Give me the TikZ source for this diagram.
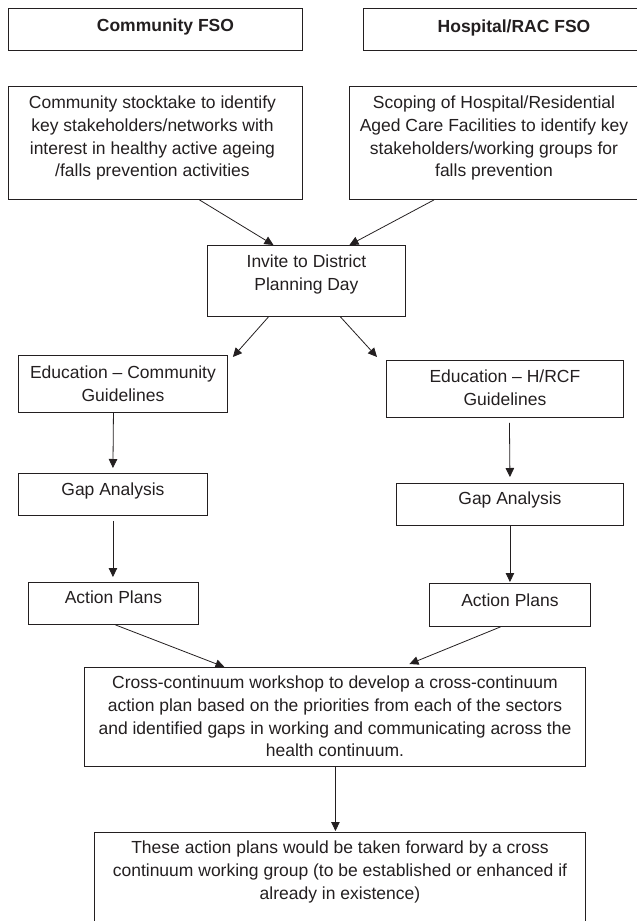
\documentclass[tikz,border=0pt]{standalone}
\usepackage{fontspec}
\setmainfont{Liberation Sans}
\usetikzlibrary{arrows.meta}
\definecolor{ink}{HTML}{231F20}
\begin{document}
\begin{tikzpicture}[x=1pt,y=-1pt,
  box/.style={draw=ink,line width=0.9pt,inner sep=0pt,anchor=north west},
  txt/.style={text=ink,inner sep=0pt,align=center,font=\fontsize{17.5}{22.6}\selectfont},
  hdr/.style={text=ink,inner sep=0pt,font=\fontsize{17.5}{22.6}\selectfont\bfseries},
  arr/.style={draw=ink,line width=0.8pt,-{Triangle[length=9pt,width=8.5pt]}}]
\useasboundingbox (0,0) rectangle (637,921);
% boxes
\node[box,minimum width=294pt,minimum height=42pt] (hL) at (8,8) {};
\node[box,minimum width=290pt,minimum height=42pt] (hR) at (363,8) {};
\node[box,minimum width=294pt,minimum height=113pt] (stock) at (8,86) {};
\node[box,minimum width=300pt,minimum height=113pt] (scope) at (349,86) {};
\node[box,minimum width=198pt,minimum height=71pt] (invite) at (207,245) {};
\node[box,minimum width=209pt,minimum height=57pt] (eduL) at (18,355) {};
\node[box,minimum width=237pt,minimum height=57pt] (eduR) at (386,360) {};
\node[box,minimum width=189pt,minimum height=42pt] (gapL) at (18,473) {};
\node[box,minimum width=227pt,minimum height=42pt] (gapR) at (396,483) {};
\node[box,minimum width=170pt,minimum height=42pt] (actL) at (28,582) {};
\node[box,minimum width=161pt,minimum height=43pt] (actR) at (429,583) {};
\node[box,minimum width=501pt,minimum height=99pt] (cross) at (84,667) {};
\node[box,minimum width=491pt,minimum height=110pt] (these) at (94,832) {};
% texts
\node[hdr] (hLt) at ([xshift=10pt,yshift=2pt]hL.center) {Community FSO};
\node[hdr] (hRt) at ([xshift=151pt,yshift=23pt]hR.south west) {Hospital/RAC FSO};
\node[txt,anchor=north] (stockt) at ([xshift=-3pt,yshift=-10pt]stock.north) {Community stocktake to identify\\key stakeholders/networks with\\interest in healthy active ageing\\/falls prevention activities};
\node[txt,anchor=north] (scopet) at ([xshift=145pt,yshift=-10pt]scope.north west) {Scoping of Hospital/Residential\\Aged Care Facilities to identify key\\stakeholders/working groups for\\falls prevention};
\node[txt,anchor=north] (invitet) at ([yshift=-10pt]invite.north) {Invite to District\\Planning Day};
\node[txt,anchor=north] (eduLt) at ([yshift=-11pt]eduL.north) {Education -- Community\\Guidelines};
\node[txt,anchor=north] (eduRt) at ([yshift=-10pt]eduR.north) {Education -- H/RCF\\Guidelines};
\node[txt,anchor=north] (gapLt) at ([yshift=-10pt]gapL.north) {Gap Analysis};
\node[txt,anchor=north] (gapRt) at ([yshift=-9pt]gapR.north) {Gap Analysis};
\node[txt,anchor=north] (actLt) at ([yshift=-9pt]actL.north) {Action Plans};
\node[txt,anchor=north] (actRt) at ([yshift=-11pt]actR.north) {Action Plans};
\node[txt,anchor=north] (crosst) at ([yshift=-9pt]cross.north) {Cross-continuum workshop to develop a cross-continuum\\action plan based on the priorities from each of the sectors\\and identified gaps in working and communicating across the\\health continuum.};
\node[txt,anchor=north] (theset) at ([yshift=-9pt]these.north) {These action plans would be taken forward by a cross\\continuum working group (to be established or enhanced if\\already in existence)};
% connectors
\draw[arr] ([xshift=44pt]stock.south) -- ([xshift=-33pt]invite.north);
\draw[arr] ([xshift=85pt]scope.south west) -- ([xshift=43pt]invite.north);
\draw[arr] ([xshift=-38pt]invite.south) -- ([shift={(5,2)}]eduL.north east);
\draw[arr] ([xshift=34pt]invite.south) -- ([shift={(-9,-3)}]eduR.north west);
\draw[arr] ([xshift=-9.5pt]eduL.south) -- ([yshift=5pt]gapL.north);
\draw[arr] ([yshift=-5pt]gapL.south) -- ([yshift=5pt]gapL.south |- actL.north);
\draw[arr] ([xshift=4.5pt,yshift=-5pt]eduR.south) -- ([yshift=6pt]gapR.north);
\draw[arr] (gapR.south) -- ([yshift=1pt]actR.north);
\draw[arr] ([xshift=2pt]actL.south) -- ([xshift=-110.5pt]cross.north);
\draw[arr] ([xshift=-9.5pt]actR.south) -- ([shift={(74.5,-3)}]cross.north);
\draw[arr] ([xshift=0.5pt]cross.south) -- ([xshift=-4.5pt,yshift=1pt]these.north);
\end{tikzpicture}
\end{document}
